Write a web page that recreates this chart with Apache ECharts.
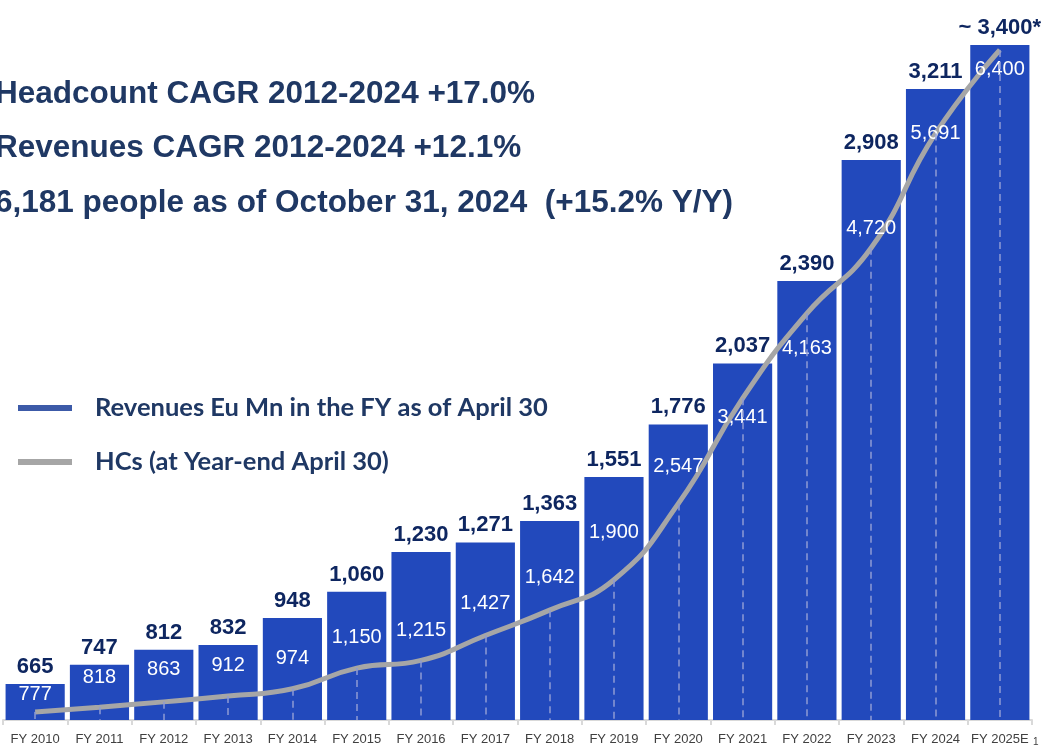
<!DOCTYPE html>
<html>
<head>
<meta charset="utf-8">
<script src="https://cdn.jsdelivr.net/npm/echarts@6/dist/echarts.min.js"></script>
<style>
html, body { margin: 0; padding: 0; background: #fff; }
#main { width: 1043px; height: 747px; }
</style>
</head>
<body>
<div id="main"></div>
<script>
var years = ['FY 2010', 'FY 2011', 'FY 2012', 'FY 2013', 'FY 2014', 'FY 2015', 'FY 2016', 'FY 2017',
             'FY 2018', 'FY 2019', 'FY 2020', 'FY 2021', 'FY 2022', 'FY 2023', 'FY 2024', 'FY 2025E'];
var revenues = [665, 747, 812, 832, 948, 1060, 1230, 1271, 1363, 1551, 1776, 2037, 2390, 2908, 3211, 3400];
var headcount = [777, 818, 863, 912, 974, 1150, 1215, 1427, 1642, 1900, 2547, 3441, 4163, 4720, 5691, 6400];
var notes = ['Headcount CAGR 2012-2024 +17.0%',
             'Revenues CAGR 2012-2024 +12.1%',
             '6,181 people as of October 31, 2024  (+15.2% Y/Y)'];
var revName = 'Revenues Eu Mn in the FY as of April 30';
var hcName = 'HCs (at Year-end April 30)';

// vertical shift of each HC label from its point (px, negative = above)
var hcLabelDy = [-18, -30, -32, -31, -30, -31, -30, -32, -33, -47, -37, 19, 35, -19, 0, 19];

var navy = '#1F3864';
var hcMin = 709;

var myChart = echarts.init(document.getElementById('main'));

var option = {
    animation: false,
    grid: { left: 3, right: 11, top: 40, bottom: 27, outerBoundsMode: 'none', containLabel: false },
    graphic: notes.map(function (t, i) {
        return {
            type: 'text', left: -5, top: [78, 132, 187][i],
            style: { text: t, fill: navy, font: 'bold 31.5px "Liberation Sans", Arial, sans-serif' }
        };
    }).concat([{
        type: 'text', left: 1033, top: 737,
        style: { text: '1', fill: '#404040', font: '10px "Liberation Sans", Arial, sans-serif' }
    }]),
    legend: {
        orient: 'vertical', left: 18, top: 395, padding: 0,
        itemWidth: 54, itemHeight: 6, itemGap: 28,
        selectedMode: false,
        data: [
            { name: revName, icon: 'rect', itemStyle: { color: '#3C5AA8' } },
            { name: hcName, icon: 'rect', itemStyle: { color: '#A6A6A6' } }
        ],
        textStyle: { fontFamily: 'Lato', fontWeight: 'bold', fontSize: 25.5, color: navy, padding: [0, 0, 0, 18] }
    },
    xAxis: {
        type: 'category',
        data: years,
        axisLine: { lineStyle: { color: '#D9D9D9', width: 2 } },
        axisTick: { show: true, length: 5, lineStyle: { color: '#D9D9D9', width: 2 } },
        axisLabel: { interval: 0, color: '#404040', fontSize: 13, fontFamily: '"Liberation Sans", Arial', margin: 13 }
    },
    yAxis: [
        { type: 'value', min: 511, max: 3421, show: false },
        { type: 'value', min: hcMin, max: 6485, show: false }
    ],
    series: [
        {
            name: revName,
            type: 'bar',
            data: revenues,
            barCategoryGap: '8%',
            itemStyle: { color: '#2249BC' },
            label: {
                show: true, position: 'top', distance: 6,
                color: '#0E2660', fontSize: 22, fontWeight: 'bold', fontFamily: '"Liberation Sans", Arial',
                formatter: function (p) {
                    var s = p.value.toLocaleString('en-US');
                    return /E$/.test(p.name) ? '~ ' + s + '*' : s;
                }
            },
            emphasis: { disabled: true }
        },
        {
            name: hcName,
            type: 'line',
            yAxisIndex: 1,
            smooth: 0.5,
            symbol: 'circle',
            symbolSize: 1,
            itemStyle: { color: '#A6A6A6' },
            lineStyle: { color: '#A6A6A6', width: 5 },
            data: headcount.map(function (v, i) {
                return { value: v, label: { offset: [0, hcLabelDy[i]] } };
            }),
            label: {
                show: true, position: 'inside',
                color: '#fff', fontSize: 20, fontFamily: '"Liberation Sans", Arial',
                formatter: function (p) { return p.value.toLocaleString('en-US'); }
            },
            markLine: {
                silent: true,
                symbol: 'none',
                label: { show: false },
                lineStyle: { color: '#8E9BD3', type: [7, 5], width: 1.5 },
                data: headcount.map(function (v, i) {
                    return [{ coord: [years[i], v] }, { coord: [years[i], hcMin] }];
                })
            },
            emphasis: { disabled: true }
        }
    ]
};

myChart.setOption(option);
</script>
</body>
</html>
